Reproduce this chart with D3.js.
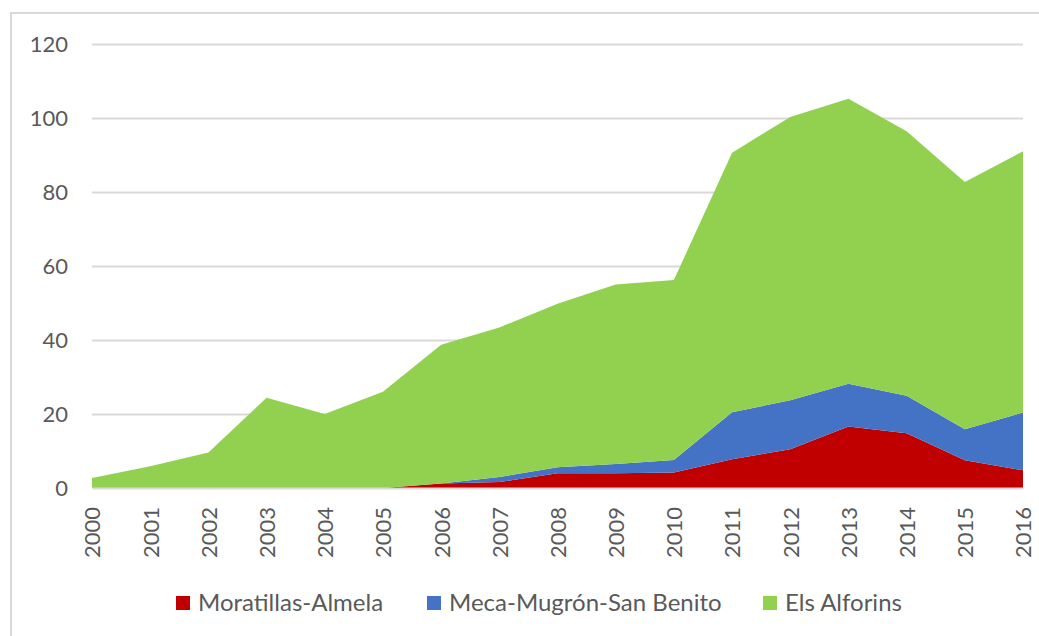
<!DOCTYPE html>
<html>
<head>
<meta charset="utf-8">
<script src="https://cdn.jsdelivr.net/npm/d3@7"></script>
<style>
  body { margin: 0; background: #fff; }
  svg { display: block; font-family: Lato, "Open Sans", sans-serif; }
</style>
</head>
<body>
<svg id="chart" width="1039" height="636"></svg>
<script>
// tick labels / categories
var years = ["2000", "2001", "2002", "2003", "2004", "2005", "2006", "2007", "2008",
             "2009", "2010", "2011", "2012", "2013", "2014", "2015", "2016"];
var yTicks = [0, 20, 40, 60, 80, 100, 120];

// series (stacked, bottom to top)
var seriesNames = ["Moratillas-Almela", "Meca-Mugrón-San Benito", "Els Alforins"];
var seriesColors = ["#c00000", "#4472c4", "#92d050"];
var moratillas = [0, 0, 0, 0, 0, 0, 1.2, 1.6, 4, 4, 4.2, 7.8, 10.5, 16.6, 14.8, 7.5, 4.8];
var meca = [0, 0, 0, 0, 0, 0, 0, 1.4, 1.6, 2.5, 3.4, 12.7, 13.2, 11.6, 10.1, 8.4, 15.6];
var alforins = [2.7, 5.9, 9.6, 24.4, 20, 26, 37.5, 40.4, 44.2, 48.5, 48.6, 70.1, 76.6, 77, 71.5, 66.8, 70.6];

(function () {
    var svg = d3.select("#chart");
    var plotLeft = 92, plotRight = 1023, plotTop = 44, plotBottom = 488;
    var textColor = "#595959", gridColor = "#d9d9d9";

    // chart frame (only left and top edges fall inside the picture)
    svg.append("rect")
        .attr("x", 11).attr("y", 13)
        .attr("width", 1060).attr("height", 660)
        .attr("fill", "none")
        .attr("stroke", gridColor)
        .attr("stroke-width", 2);

    var x = d3.scalePoint().domain(years).range([plotLeft, plotRight]);
    var y = d3.scaleLinear().domain([0, 120]).range([plotBottom, plotTop]);

    // build rows for the stack
    var rows = years.map(function (yr, i) {
        var r = { year: yr };
        r[seriesNames[0]] = moratillas[i];
        r[seriesNames[1]] = meca[i];
        r[seriesNames[2]] = alforins[i];
        return r;
    });
    var stacked = d3.stack().keys(seriesNames)(rows);

    // gridlines
    svg.append("g")
        .attr("transform", "translate(" + plotLeft + ",0)")
        .call(d3.axisLeft(y).tickValues(yTicks.slice(1)).tickSize(-(plotRight - plotLeft)).tickFormat(""))
        .call(function (g) {
            g.select(".domain").remove();
            g.selectAll("line").attr("stroke", gridColor).attr("stroke-width", 2);
        });

    // areas
    var area = d3.area()
        .x(function (d) { return x(d.data.year); })
        .y0(function (d) { return y(d[0]); })
        .y1(function (d) { return y(d[1]); });

    svg.append("g").selectAll("path")
        .data(stacked)
        .enter().append("path")
        .attr("d", area)
        .attr("fill", function (d, i) { return seriesColors[i]; });

    // y axis labels
    svg.append("g")
        .attr("transform", "translate(" + plotLeft + ",0)")
        .call(d3.axisLeft(y).tickValues(yTicks).tickSize(0).tickPadding(24))
        .call(function (g) {
            g.select(".domain").remove();
            g.selectAll("text")
                .attr("fill", textColor)
                .style("font-size", "22px")
                .style("font-family", "Lato, 'Open Sans', sans-serif");
        });

    // x axis with rotated year labels
    svg.append("g")
        .attr("transform", "translate(0," + plotBottom + ")")
        .call(d3.axisBottom(x).tickSize(0))
        .call(function (g) {
            g.select(".domain").attr("stroke", gridColor).attr("stroke-width", 2);
            g.selectAll("text")
                .attr("fill", textColor)
                .attr("transform", "rotate(-90)")
                .attr("x", -19)
                .attr("y", 0)
                .attr("dy", "0.36em")
                .attr("text-anchor", "end")
                .style("font-size", "22px")
                .style("font-family", "Lato, 'Open Sans', sans-serif");
        });

    // legend
    var legendX = [176, 427, 763];
    var legend = svg.append("g").selectAll("g")
        .data(seriesNames)
        .enter().append("g")
        .attr("transform", function (d, i) { return "translate(" + legendX[i] + ",596)"; });

    legend.append("rect")
        .attr("width", 14).attr("height", 14)
        .attr("fill", function (d, i) { return seriesColors[i]; });

    legend.append("text")
        .attr("x", 22)
        .attr("y", 15)
        .attr("fill", textColor)
        .style("font-size", "24px")
        .text(function (d) { return d; });
})();
</script>
</body>
</html>
